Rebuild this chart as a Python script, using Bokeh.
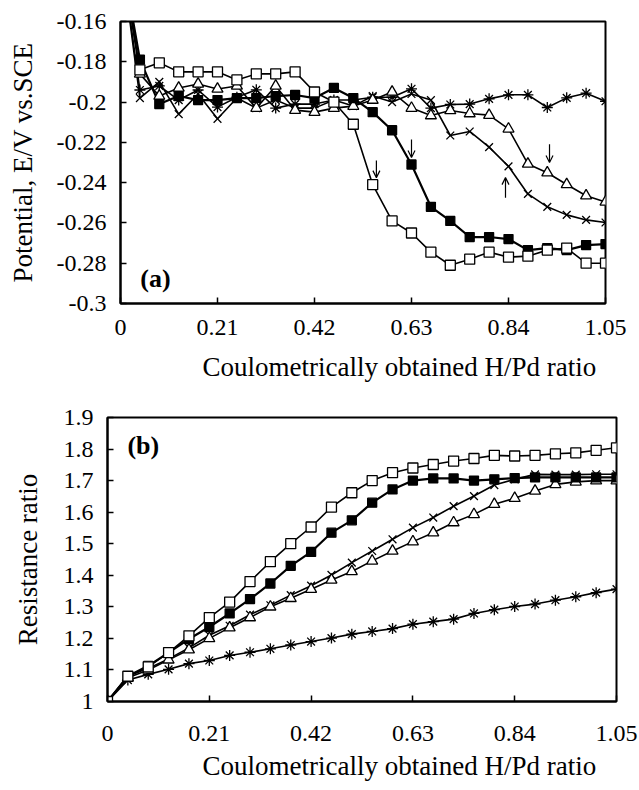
from bokeh.plotting import figure
from bokeh.layouts import column
from bokeh.models import FixedTicker, Label, Arrow, OpenHead, Title
from bokeh.embed import file_html
from bokeh.resources import INLINE

# ---------------- data ----------------
h_pd = [0.0, 0.042, 0.084, 0.126, 0.168, 0.21, 0.252, 0.294, 0.336, 0.378,
        0.42, 0.462, 0.504, 0.546, 0.588, 0.63, 0.672, 0.714, 0.756, 0.798,
        0.84, 0.882, 0.924, 0.966, 1.008, 1.05]

# panel (a): potential E/V vs SCE
pot_open_sq = [-0.124, -0.184, -0.1805, -0.185, -0.185, -0.185, -0.189, -0.186, -0.186, -0.185,
               -0.195, -0.200, -0.211, -0.241, -0.259, -0.265, -0.2745, -0.281, -0.278, -0.2745,
               -0.277, -0.2765, -0.2735, -0.2725, -0.280, -0.280]
pot_fill_sq = [-0.124, -0.179, -0.201, -0.197, -0.199, -0.199, -0.198, -0.198, -0.197, -0.1965,
               -0.198, -0.193, -0.198, -0.205, -0.214, -0.231, -0.252, -0.259, -0.267, -0.267,
               -0.268, -0.2735, -0.2725, -0.2735, -0.271, -0.2705]
pot_triangle = [-0.124, -0.186, -0.197, -0.193, -0.191, -0.1935, -0.192, -0.203, -0.192, -0.204,
                -0.205, -0.203, -0.202, -0.199, -0.195, -0.203, -0.2067, -0.2042, -0.2057, -0.2065,
                -0.2133, -0.2307, -0.2351, -0.2409, -0.2465, -0.2496]
pot_cross = [-0.124, -0.198, -0.190, -0.206, -0.196, -0.2083, -0.198, -0.203, -0.199, -0.203,
             -0.203, -0.199, -0.202, -0.197, -0.200, -0.196, -0.199, -0.2166, -0.2146, -0.2224,
             -0.2319, -0.2456, -0.252, -0.256, -0.2585, -0.2598]
pot_star = [-0.124, -0.194, -0.192, -0.199, -0.194, -0.2025, -0.1976, -0.1939, -0.203, -0.201,
            -0.201, -0.199, -0.199, -0.1976, -0.1976, -0.1934, -0.203, -0.2012, -0.201, -0.1984,
            -0.1964, -0.1964, -0.2027, -0.1979, -0.1956, -0.1996]

# arrows in panel (a): x, tail y, head y
arrow_x = [0.554, 0.630, 0.8335, 0.9288]
arrow_y_tail = [-0.229, -0.2186, -0.2475, -0.221]
arrow_y_head = [-0.2375, -0.2275, -0.2375, -0.230]

# panel (b): resistance ratio
res_open_sq = [1.0, 1.08, 1.11, 1.155, 1.208, 1.266, 1.315, 1.380, 1.443, 1.500,
               1.553, 1.616, 1.6615, 1.700, 1.725, 1.740, 1.751, 1.762, 1.770, 1.780,
               1.778, 1.780, 1.785, 1.788, 1.796, 1.804]
res_fill_sq = [1.0, 1.08, 1.113, 1.155, 1.198, 1.236, 1.279, 1.3245, 1.374, 1.430,
               1.474, 1.535, 1.574, 1.630, 1.672, 1.700, 1.707, 1.707, 1.700, 1.704,
               1.708, 1.710, 1.710, 1.710, 1.710, 1.710]
res_triangle = [1.0, 1.075, 1.100, 1.132, 1.164, 1.200, 1.234, 1.266, 1.300, 1.327,
                1.356, 1.385, 1.412, 1.4456, 1.477, 1.5066, 1.535, 1.567, 1.593, 1.625,
                1.644, 1.667, 1.688, 1.696, 1.700, 1.700]
res_cross = [1.0, 1.080, 1.105, 1.135, 1.170, 1.210, 1.240, 1.275, 1.305, 1.337,
             1.367, 1.401, 1.440, 1.477, 1.514, 1.551, 1.583, 1.619, 1.651, 1.686,
             1.704, 1.7197, 1.719, 1.719, 1.720, 1.720]
res_star = [1.0, 1.068, 1.086, 1.102, 1.120, 1.130, 1.146, 1.156, 1.167, 1.179,
            1.190, 1.201, 1.2135, 1.222, 1.231, 1.245, 1.253, 1.261, 1.279, 1.291,
            1.301, 1.3087, 1.321, 1.332, 1.345, 1.356]

x_ticks = [0, 0.21, 0.42, 0.63, 0.84, 1.05]
x_tick_labels = ["0", "0.21", "0.42", "0.63", "0.84", "1.05"]
a_y_ticks = [-0.16, -0.18, -0.2, -0.22, -0.24, -0.26, -0.28, -0.3]
a_y_tick_labels = ["-0.16", "-0.18", "-0.2", "-0.22", "-0.24", "-0.26", "-0.28", "-0.3"]
b_y_ticks = [1.0, 1.1, 1.2, 1.3, 1.4, 1.5, 1.6, 1.7, 1.8, 1.9]
b_y_tick_labels = ["1", "1.1", "1.2", "1.3", "1.4", "1.5", "1.6", "1.7", "1.8", "1.9"]

x_title = "Coulometrically obtained H/Pd ratio"

FONT = "Liberation Serif"


def style(p, yticks, ylabels, ytitle, xlab_standoff, ytitle_standoff,
          title_offset, title_standoff):
    p.outline_line_color = "black"
    p.outline_line_width = 2
    p.xgrid.visible = False
    p.ygrid.visible = False
    p.background_fill_color = "white"
    p.border_fill_color = "white"
    for ax in (p.xaxis[0], p.yaxis[0]):
        ax.axis_line_width = 2
        ax.axis_line_color = "black"
        ax.major_tick_in = 6
        ax.major_tick_out = 0
        ax.major_tick_line_width = 1.5
        ax.minor_tick_line_color = None
        ax.major_label_text_font = FONT
        ax.major_label_text_font_size = "24px"
        ax.major_label_text_color = "black"
        ax.axis_label_text_font = FONT
        ax.axis_label_text_font_size = "27px"
        ax.axis_label_text_font_style = "normal"
        ax.axis_label_text_color = "black"
    p.xaxis[0].ticker = FixedTicker(ticks=x_ticks)
    p.xaxis[0].major_label_overrides = {t: l for t, l in zip(x_ticks, x_tick_labels)}
    p.yaxis[0].ticker = FixedTicker(ticks=yticks)
    p.yaxis[0].major_label_overrides = {t: l for t, l in zip(yticks, ylabels)}
    p.yaxis[0].axis_label = ytitle
    p.xaxis[0].major_label_standoff = xlab_standoff
    p.yaxis[0].major_label_standoff = 14
    p.yaxis[0].axis_label_standoff = ytitle_standoff
    p.add_layout(Title(text=x_title, align="left", offset=title_offset,
                       text_font=FONT, text_font_size="27px",
                       text_font_style="normal", text_color="black",
                       standoff=title_standoff), "below")


def draw(p, ys):
    open_sq, fill_sq, tri, cross, star = ys
    lw = 1.6
    p.line(h_pd, star, line_color="black", line_width=lw)
    p.line(h_pd, cross, line_color="black", line_width=lw)
    p.line(h_pd, tri, line_color="black", line_width=lw)
    p.line(h_pd, fill_sq, line_color="black", line_width=2.2)
    p.line(h_pd, open_sq, line_color="black", line_width=lw)
    p.scatter(h_pd, star, marker="asterisk", size=11, line_color="black", line_width=1.3)
    p.scatter(h_pd, cross, marker="x", size=11, line_color="black", line_width=1.3)
    p.scatter(h_pd, tri, marker="triangle", size=11, fill_color="white",
              line_color="black", line_width=1.3)
    p.scatter(h_pd, fill_sq, marker="square", size=9, fill_color="black",
              line_color="black", line_width=1.3)
    p.scatter(h_pd, open_sq, marker="square", size=10, fill_color="white",
              line_color="black", line_width=1.3)


# ---------------- panel (a) ----------------
pa = figure(width=639, height=401, output_backend="svg", toolbar_location=None,
            x_range=(0, 1.05), y_range=(-0.3, -0.16), frame_align=False,
            min_border_left=120, min_border_right=34, min_border_top=21,
            min_border_bottom=98)
style(pa, a_y_ticks, a_y_tick_labels, "Potential, E/V vs.SCE", 16, 16, 82, 24)
draw(pa, (pot_open_sq, pot_fill_sq, pot_triangle, pot_cross, pot_star))
for xa, y0, y1 in zip(arrow_x, arrow_y_tail, arrow_y_head):
    pa.add_layout(Arrow(end=OpenHead(size=7, line_width=1.2, line_color="black"),
                        x_start=xa, y_start=y0, x_end=xa, y_end=y1,
                        line_width=1.2, line_color="black"))
pa.add_layout(Label(x=0.043, y=-0.2876, text="(a)", text_font=FONT,
                    text_font_size="26px", text_font_style="bold", text_color="black",
                    text_baseline="middle", text_align="left"))

# ---------------- panel (b) ----------------
pb = figure(width=639, height=389, output_backend="svg", toolbar_location=None,
            x_range=(0, 1.05), y_range=(1.0, 1.9), frame_align=False,
            min_border_left=107, min_border_right=23, min_border_top=16,
            min_border_bottom=89)
style(pb, b_y_ticks, b_y_tick_labels, "Resistance ratio", 24, 18, 95, 10)
draw(pb, (res_open_sq, res_fill_sq, res_triangle, res_cross, res_star))
pb.add_layout(Label(x=0.041, y=1.812, text="(b)", text_font=FONT,
                    text_font_size="26px", text_font_style="bold", text_color="black",
                    text_baseline="middle", text_align="left"))

layout = column(pa, pb, spacing=0)
open("out.html", "w").write(file_html(layout, INLINE))
